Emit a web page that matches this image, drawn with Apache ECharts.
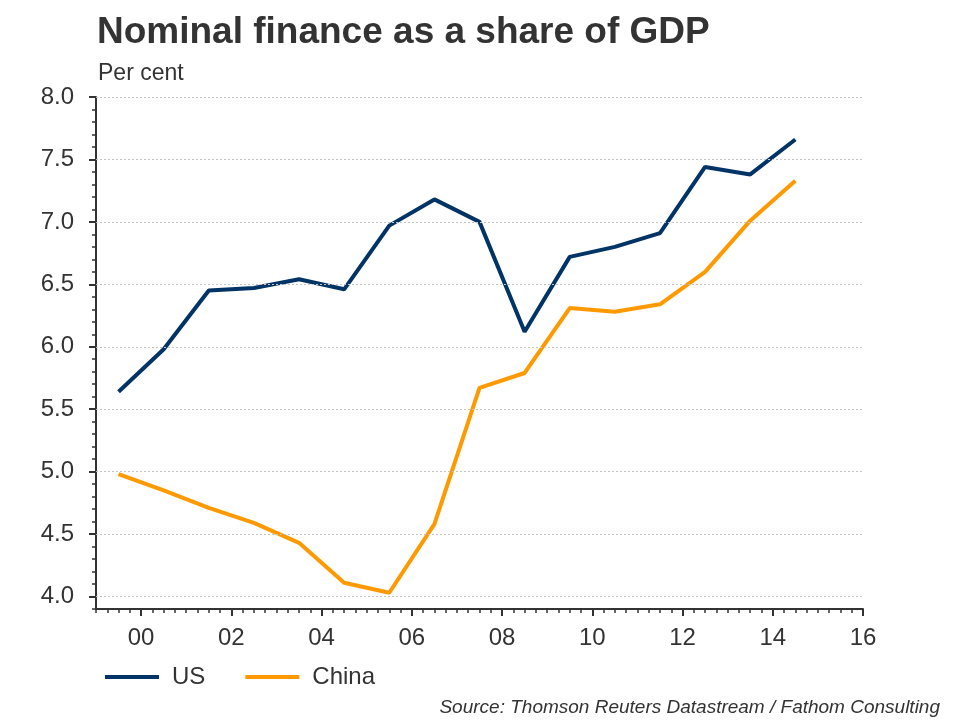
<!DOCTYPE html>
<html>
<head>
<meta charset="utf-8">
<script src="https://cdn.jsdelivr.net/npm/echarts@6/dist/echarts.min.js"></script>
<style>html,body{margin:0;padding:0;background:#fff}#c{width:960px;height:720px}</style>
</head>
<body>
<div id="c"></div>
<script>
var years = [1999,2000,2001,2002,2003,2004,2005,2006,2007,2008,2009,2010,2011,2012,2013,2014];
var usValues = [5.64,5.98,6.45,6.47,6.54,6.46,6.97,7.18,7.00,6.12,6.72,6.80,6.91,7.44,7.38,7.66];
var chinaValues = [4.98,4.85,4.71,4.59,4.43,4.11,4.03,4.58,5.67,5.79,6.31,6.28,6.34,6.60,7.01,7.33];
var xTickValues = [2000,2002,2004,2006,2008,2010,2012,2014,2016];
var yTickValues = [4.0,4.5,5.0,5.5,6.0,6.5,7.0,7.5,8.0];

function pairs(vals){ return years.map(function(y,i){ return [y+0.5, vals[i]]; }); }

var font = '"Liberation Sans", Arial, sans-serif';
var chart = echarts.init(document.getElementById('c'));
chart.setOption({
  animation:false,
  textStyle:{fontFamily:font},
  title:[
    {text:'Nominal finance as a share of GDP', left:92, top:9, textStyle:{fontSize:37, fontWeight:'bold', color:'#333', fontFamily:font}},
    {text:'Per cent', left:93, top:57, textStyle:{fontSize:23, fontWeight:'normal', color:'#333', fontFamily:font}},
    {text:'Source: Thomson Reuters Datastream / Fathom Consulting', right:15, top:693, textStyle:{fontSize:19, fontStyle:'italic', fontWeight:'normal', color:'#333', fontFamily:font}}
  ],
  legend:{left:100, top:660, itemWidth:54, itemHeight:4, itemGap:40, icon:'rect',
    textStyle:{fontSize:24, color:'#333', fontFamily:font, padding:[0,0,0,8]},
    data:['US','China']},
  grid:{left:96, right:97, top:97, bottom:111, containLabel:false},
  xAxis:[
    {type:'value', min:1999, max:2016, position:'bottom',
     axisLine:{show:true, lineStyle:{color:'#333', width:2}},
     axisTick:{show:true, customValues:xTickValues, length:7, inside:false, lineStyle:{color:'#333', width:2}},
     axisLabel:{customValues:xTickValues, fontSize:24, color:'#333', margin:17,
       formatter:function(v){ return String(v).slice(2); }},
     splitLine:{show:false}},
    {type:'value', min:1999, max:2016, interval:0.25, position:'bottom',
     axisLine:{show:false}, axisLabel:{show:false}, splitLine:{show:false},
     axisTick:{show:true, length:4, lineStyle:{color:'#333', width:1.5}}}
  ],
  yAxis:[
    {type:'value', min:3.9, max:8.0, interval:0.5, position:'left',
     axisLine:{show:true, lineStyle:{color:'#333', width:2}},
     axisTick:{show:true, customValues:yTickValues, length:7, lineStyle:{color:'#333', width:2}},
     axisLabel:{customValues:yTickValues, fontSize:24, color:'#333', margin:22,
       formatter:function(v){ return v.toFixed(1); }},
     splitLine:{show:false}},
    {type:'value', min:3.9, max:8.0, interval:0.1, position:'left',
     axisLine:{show:false}, axisLabel:{show:false}, splitLine:{show:false},
     axisTick:{show:true, length:4, lineStyle:{color:'#333', width:1.5}}}
  ],
  series:[
    {name:'US', type:'line', data:pairs(usValues), symbol:'none', lineStyle:{color:'#003366', width:4}, itemStyle:{color:'#003366'},
     markLine:{silent:true, symbol:'none', label:{show:false},
       lineStyle:{color:'#c4c4c4', type:[2,2], width:1},
       data:yTickValues.map(function(v){ return {yAxis:v}; })},
     z:3},
    {name:'China', type:'line', data:pairs(chinaValues), symbol:'none', lineStyle:{color:'#ff9900', width:4}, itemStyle:{color:'#ff9900'}, z:3}
  ]
});
</script>
</body>
</html>
